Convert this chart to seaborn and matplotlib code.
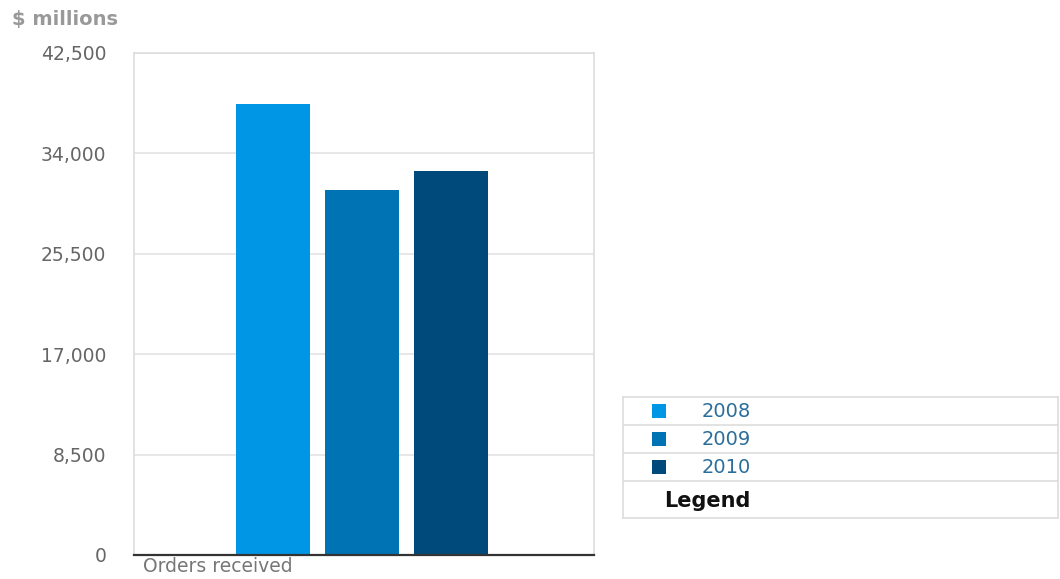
import matplotlib
matplotlib.use("Agg")
import matplotlib.pyplot as plt
import seaborn as sns
import pandas as pd
from matplotlib.ticker import FuncFormatter

categories = ["Orders received"]
years = ["2008", "2009", "2010"]
values = [38200, 30900, 32550]
colors = ["#0096E6", "#0073B5", "#004A7B"]
yticks = [0, 8500, 17000, 25500, 34000, 42500]

df = pd.DataFrame({"category": categories * len(years), "year": years, "value": values})

sns.set_theme(style="white")
plt.rcParams["font.family"] = ["DejaVu Sans"]

fig = plt.figure(figsize=(10.60, 5.79), dpi=100)
ax = fig.add_axes([0.1264, 0.0415, 0.434, 0.867])

sns.barplot(data=df, x="category", y="value", hue="year", palette=colors,
            width=0.8, gap=0.17, saturation=1, ax=ax, legend=False, errorbar=None,
            linewidth=0)

ax.set_xlim(-0.683, 0.695)
ax.set_ylim(0, 42500)
ax.set_yticks(yticks)
ax.yaxis.set_major_formatter(FuncFormatter(lambda v, p: f"{int(v):,}"))
ax.tick_params(axis="y", length=0, pad=20, labelsize=13.5, labelcolor="#666666")
ax.tick_params(axis="x", length=0, labelbottom=False)
ax.grid(axis="y", color="#e3e3e3", linewidth=1.2)
ax.set_axisbelow(True)
for s in ["left", "top", "right"]:
    ax.spines[s].set_color("#dddddd")
    ax.spines[s].set_linewidth(1.2)
ax.spines["bottom"].set_color("#333333")
ax.spines["bottom"].set_linewidth(1.6)
ax.set_ylabel("")
ax.set_xlabel("Orders received", fontsize=13.5, color="#777777", loc="left")
ax.xaxis.set_label_coords(0.02, -0.005)
ax.xaxis.label.set_verticalalignment("top")

fig.text(12 / 1060, 1 - 19 / 579, "$ millions", fontsize=14, fontweight="bold",
         color="#999999", va="center", ha="left")

# legend panel
lax = fig.add_axes([0.5877, 0.1054, 0.4104, 0.209])
lax.set_xlim(0, 1)
lax.set_ylim(0, 4.3)
lax.set_xticks([])
lax.set_yticks([])
for s in lax.spines.values():
    s.set_color("#dddddd")
    s.set_linewidth(1.2)
for yy in [1.3, 2.3, 3.3]:
    lax.axhline(yy, color="#dddddd", linewidth=1.2)
for i, (yr, c) in enumerate(zip(years, colors)):
    yc = 3.8 - i
    lax.scatter([0.083], [yc], marker="s", s=110, color=c, linewidths=0)
    lax.text(0.18, yc, yr, fontsize=14, color="#2B6E99", va="center", ha="left")
lax.text(0.095, 0.62, "Legend", fontsize=15, fontweight="bold", color="#111111",
         va="center", ha="left")

fig.savefig("out.png", dpi=100)
